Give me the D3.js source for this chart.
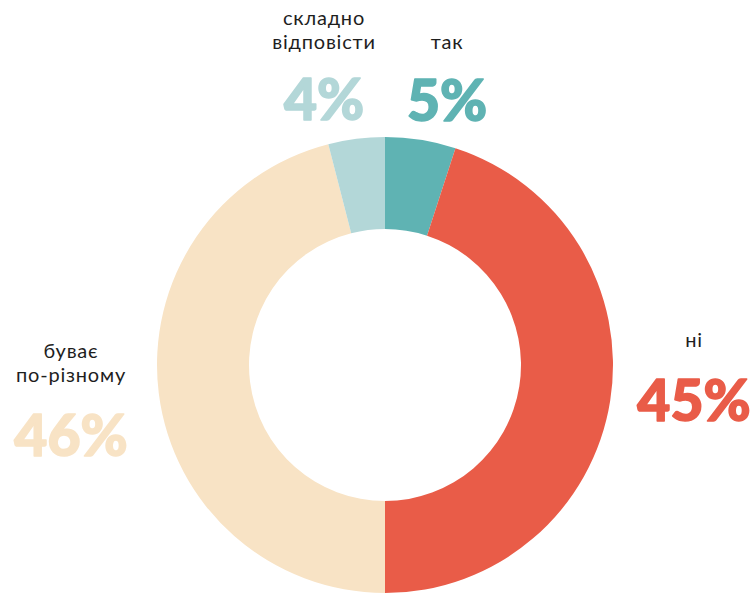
<!DOCTYPE html>
<html>
<head>
<meta charset="utf-8">
<script src="https://cdn.jsdelivr.net/npm/d3@7"></script>
<style>
  html, body { margin: 0; padding: 0; background: #fff; }
  svg { display: block; }
</style>
</head>
<body>
<div id="chart"></div>
<script>
// answers, clockwise from 12 o'clock
const categories = ['так', 'ні', 'буває по-різному', 'складно відповісти']
const values = [5, 45, 46, 4]
const colors = ['#5fb3b3', '#e95c48', '#f8e3c5', '#b3d7d8']

// label placement (centre x, baseline of first caption line, baseline of percent)
const labelLayout = {
  'так': { x: 447, lines: ['так'], y: 49, py: 121 },
  'ні': { x: 694, lines: ['ні'], y: 347, py: 421 },
  'буває по-різному': { x: 71, lines: ['буває', 'по-різному'], y: 358, py: 456 },
  'складно відповісти': { x: 324, lines: ['складно', 'відповісти'], y: 25, py: 120 },
}

const width = 753
const height = 593
const cx = 385
const cy = 365
const outerR = 228
const innerR = 136
const lineGap = 24

const data = categories.map((c, i) => ({ label: c, value: values[i], color: colors[i] }))

const svg = d3.select('#chart')
  .append('svg')
  .attr('width', width)
  .attr('height', height)

const pie = d3.pie().sort(null).value((d) => d.value)
const arc = d3.arc().innerRadius(innerR).outerRadius(outerR)

svg.append('g')
  .attr('transform', `translate(${cx},${cy})`)
  .selectAll('path')
  .data(pie(data))
  .join('path')
  .attr('d', arc)
  .attr('fill', (d) => d.data.color)

const labels = svg.append('g')
  .attr('text-anchor', 'middle')

data.forEach((d) => {
  const l = labelLayout[d.label]
  l.lines.forEach((line, i) => {
    labels.append('text')
      .attr('x', l.x)
      .attr('y', l.y + i * lineGap)
      .attr('font-family', 'Lato, sans-serif')
      .attr('font-size', 20)
      .attr('letter-spacing', 0.8)
      .attr('fill', '#1e1e1e')
      .text(line)
  })
  labels.append('text')
    .attr('x', l.x)
    .attr('y', l.py)
    .attr('font-family', 'Lato, sans-serif')
    .attr('font-size', 57)
    .attr('font-weight', 900)
    .attr('fill', d.color)
    .attr('stroke', d.color)
    .attr('stroke-width', 1.6)
    .attr('stroke-linejoin', 'round')
    .text(d.value + '%')
})
</script>
</body>
</html>
